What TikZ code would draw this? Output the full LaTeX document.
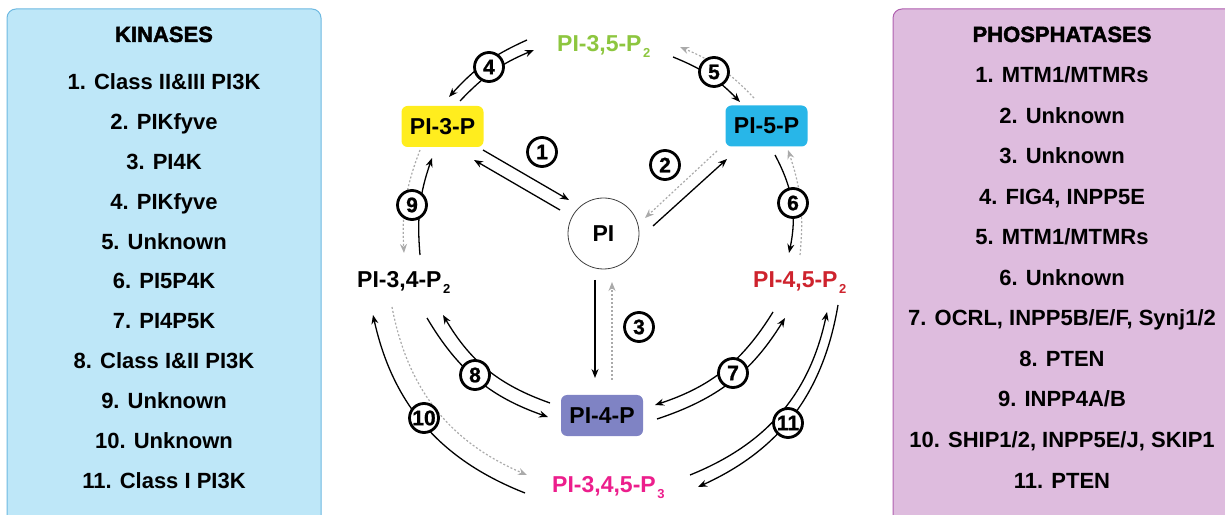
\documentclass[tikz,border=0pt]{standalone}
\usepackage{fontspec}
\setmainfont{Liberation Sans}
\newfontface\heavyfont[FakeBold=2]{Liberation Sans Bold}
\newfontface\numfont[FakeBold=1]{Liberation Sans Bold}
\usetikzlibrary{arrows.meta}
\definecolor{kinbg}{RGB}{190,231,248}
\definecolor{kinbd}{RGB}{110,185,225}
\definecolor{phobg}{RGB}{222,188,222}
\definecolor{phobd}{RGB}{175,95,175}
\definecolor{ylw}{RGB}{255,237,30}
\definecolor{cyn}{RGB}{40,182,232}
\definecolor{prw}{RGB}{127,131,196}
\definecolor{grn}{RGB}{141,198,63}
\definecolor{rd}{RGB}{206,35,45}
\definecolor{mgt}{RGB}{236,30,140}
\definecolor{dotgray}{RGB}{170,170,170}
\newcommand\lowsub[1]{\kern1.5pt\raisebox{-6pt}{\fontsize{13}{13}\selectfont #1}}
\tikzset{
  box/.style={rounded corners=6pt, minimum width=82pt, minimum height=41pt, inner sep=0pt,
    font=\fontsize{23}{23}\selectfont\bfseries},
  lbl/.style={anchor=base west, inner sep=0pt, font=\fontsize{23}{23}\selectfont\bfseries},
  num/.style={circle, draw, line width=2.8pt, fill=white, minimum size=29pt, inner sep=0pt,
    font=\fontsize{21}{21}\numfont},
  kin/.style={line width=1.3pt, -{Stealth[length=9pt,width=7pt]}},
  dot/.style={dotgray, line width=1.2pt, dash pattern=on 2pt off 2pt, -{Stealth[length=9pt,width=7pt]}},
  item/.style={anchor=base, inner sep=0pt, font=\fontsize{22}{22}\selectfont\bfseries},
  head/.style={anchor=base, inner sep=0pt, font=\fontsize{22}{22}\heavyfont},
  panel/.style={rounded corners=9pt, line width=1pt}
}
\begin{document}
\begin{tikzpicture}[x=1pt,y=1pt]
\useasboundingbox (0,0) rectangle (1225,514);
\clip (0,0) rectangle (1225,514);
% panels
\draw[panel, draw=kinbd, fill=kinbg] (7,-12) rectangle (321,505);
\draw[panel, draw=phobd, fill=phobg] (893,-12) rectangle (1240,505);
\node[head] (kh) at (164,472) {KINASES};
\node[head] (ph) at (1062,472) {PHOSPHATASES};
\foreach \t [count=\i] in {1. Class II\&III PI3K, 2. PIKfyve, 3. PI4K, 4. PIKfyve, 5. Unknown,
  6. PI5P4K, 7. PI4P5K, 8. Class I\&II PI3K, 9. Unknown, 10. Unknown, 11. Class I PI3K}
  \node[item] (k\i) at (164,{424-39.8*(\i-1)}) {\t};
\foreach \t [count=\i] in {1. MTM1/MTMRs, 2. Unknown, 3. Unknown, {4. FIG4, INPP5E}, 5. MTM1/MTMRs,
  6. Unknown, {7. OCRL, INPP5B/E/F, Synj1/2}, 8. PTEN, 9. INPP4A/B, {10. SHIP1/2, INPP5E/J, SKIP1}, 11. PTEN}
  \node[item] (f\i) at (1062,{431-40.5*(\i-1)}) {\t};
% species
\node[lbl, text=grn] (p35) at (557,462) {PI-3,5-P\lowsub{2}};
\node[lbl] (p34) at (357,226) {PI-3,4-P\lowsub{2}};
\node[lbl, text=rd] (p45) at (753,226) {PI-4,5-P\lowsub{2}};
\node[lbl, text=mgt] (p345) at (552,22) {PI-3,4,5-P\lowsub{3}};
\node[box, fill=ylw] (p3p) at (442.5,387.5) {PI-3-P};
\node[box, fill=cyn] (p5p) at (766.5,388) {PI-5-P};
\node[box, fill=prw] (p4p) at (602,98.5) {PI-4-P};
\node[circle, draw=black!75, line width=0.8pt, fill=white, minimum size=71pt, inner sep=0pt,
  font=\fontsize{23}{23}\selectfont\bfseries] (pi) at (603.5,280.5) {PI};
% connector end points
\coordinate (a1s) at (483,364); \coordinate (a1e) at (569,314);
\coordinate (b1s) at (560,304); \coordinate (b1e) at (474,354);
\coordinate (a2s) at (653,288); \coordinate (a2e) at (727,355);
\coordinate (b2s) at (717,363); \coordinate (b2e) at (645,296);
\coordinate (a3s) at (595,234); \coordinate (a3e) at (595,136);
\coordinate (b3s) at (612,134); \coordinate (b3e) at (612,232);
\coordinate (a4s) at (527,474); \coordinate (a4e) at (449,417);
\coordinate (b4s) at (460,413); \coordinate (b4e) at (534,464);
\coordinate (a5s) at (673,457); \coordinate (a5e) at (740,412);
\coordinate (b5s) at (754,416); \coordinate (b5e) at (680,467);
\coordinate (a6s) at (775,359); \coordinate (a6e) at (789,261);
\coordinate (b6s) at (800,259); \coordinate (b6e) at (788,364);
\coordinate (a9s) at (420,259); \coordinate (a9e) at (432,356);
\coordinate (b9s) at (420,364); \coordinate (b9e) at (404,261);
\coordinate (a8s) at (550,111); \coordinate (a8e) at (443,199);
\coordinate (b8s) at (427,196); \coordinate (b8e) at (548,97);
\coordinate (a7s) at (657,95); \coordinate (a7e) at (785,196);
\coordinate (b7s) at (773,202); \coordinate (b7e) at (655,109);
\coordinate (a10s) at (525,21); \coordinate (a10e) at (373,199);
\coordinate (b10s) at (392,207); \coordinate (b10e) at (527,39);
\coordinate (a11s) at (690,39); \coordinate (a11e) at (827,202);
\coordinate (b11s) at (838,209); \coordinate (b11e) at (698,27);
% connectors
\draw[kin] (a1s) -- (a1e);
\draw[kin] (b1s) -- (b1e);
\draw[kin] (a2s) -- (a2e);
\draw[dot] (b2s) -- (b2e);
\draw[kin] (a3s) -- (a3e);
\draw[dot] (b3s) -- (b3e);
\draw[kin] (a4s) to[bend right=12] (a4e);
\draw[kin] (b4s) to[bend left=12] (b4e);
\draw[kin] (a5s) to[bend left=12] (a5e);
\draw[dot] (b5s) to[bend right=12] (b5e);
\draw[kin] (a6s) to[bend left=20] (a6e);
\draw[dot] (b6s) to[bend right=12] (b6e);
\draw[kin] (a9s) to[bend left=12] (a9e);
\draw[dot] (b9s) to[bend right=12] (b9e);
\draw[kin] (a8s) to[bend left=20] (a8e);
\draw[kin] (b8s) to[bend right=20] (b8e);
\draw[kin] (a7s) to[bend right=20] (a7e);
\draw[kin] (b7s) to[bend left=20] (b7e);
\draw[kin] (a10s) to[bend left=28] (a10e);
\draw[dot] (b10s) to[bend right=28] (b10e);
\draw[kin] (a11s) to[bend right=28] (a11e);
\draw[kin] (b11s) to[bend left=28] (b11e);
% step numbers
\node[num] (n1) at (542,362) {1};
\node[num] (n2) at (665,349) {2};
\node[num] (n3) at (639,187) {3};
\node[num] (n4) at (489,447) {4};
\node[num] (n5) at (714,442) {5};
\node[num] (n6) at (793,311) {6};
\node[num] (n7) at (733,141) {7};
\node[num] (n8) at (475,139) {8};
\node[num] (n9) at (412,309) {9};
\node[num] (n10) at (424,96) {10};
\node[num] (n11) at (788,91) {11};
\end{tikzpicture}
\end{document}
